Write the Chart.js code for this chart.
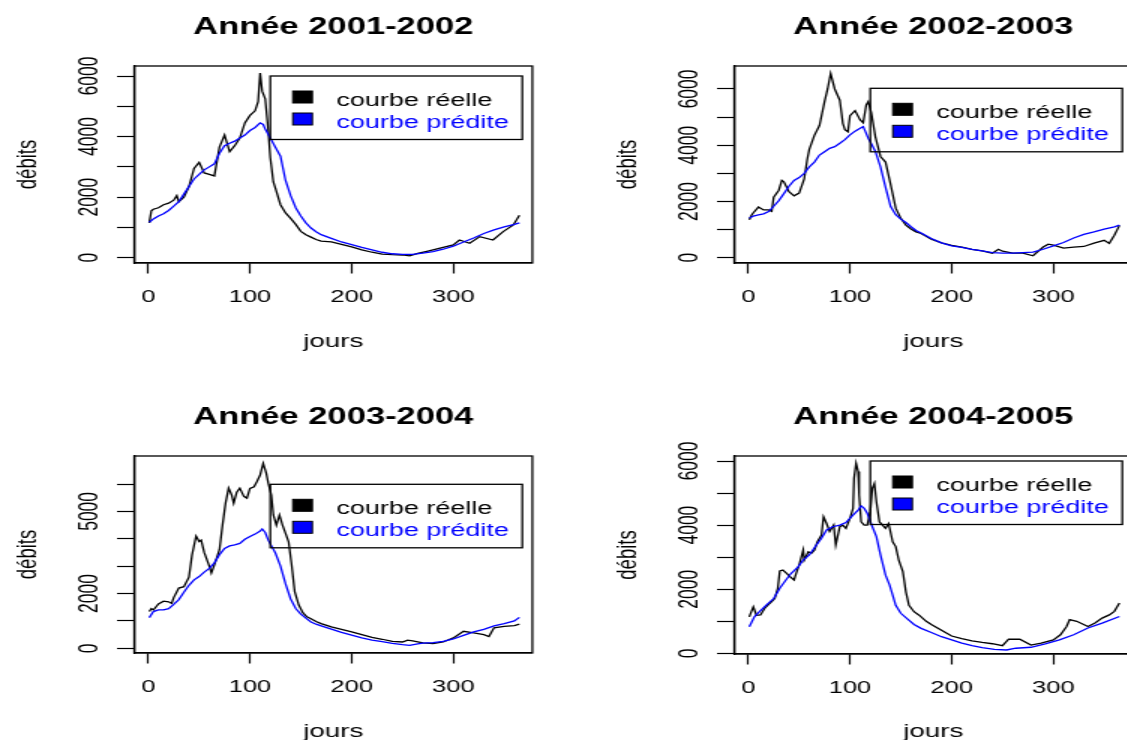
<!DOCTYPE html>
<html>
<head>
<meta charset="utf-8">
<title>Débits réels et prédits</title>
<script src="https://cdn.jsdelivr.net/npm/chart.js@4.4.1/dist/chart.umd.min.js"></script>
<style>
  html, body { margin: 0; padding: 0; background: #fff; }
  body { width: 1127px; height: 740px; overflow: hidden; position: relative; }
  /* le graphique d'origine est étiré horizontalement */
  canvas { position: absolute; transform: scaleX(1.5); transform-origin: 0 0; }
</style>
</head>
<body>
<canvas id="g1" width="400" height="370" style="left:0;top:0"></canvas>
<canvas id="g2" width="400" height="370" style="left:600px;top:0"></canvas>
<canvas id="g3" width="400" height="370" style="left:0;top:390px"></canvas>
<canvas id="g4" width="400" height="370" style="left:600px;top:390px"></canvas>
<script>
// graduations
const xTicks = [0, 100, 200, 300];
const yTicks = [0, 1000, 2000, 3000, 4000, 5000, 6000];
const yLabels = [0, 2000, 4000, 6000];
const yLabels2003 = [0, 2000, 5000];
const seriesNames = ['courbe réelle', 'courbe prédite'];

// Année 2001-2002
const jours1Reel = [1,3,5,10,15,20,25,28,30,35,40,45,50,55,60,65,70,75,80,85,90,95,100,105,108,110,112,115,118,120,123,125,130,135,140,145,150,155,160,165,170,180,190,200,210,220,230,240,250,257,265,275,285,295,300,306,316,326,339,349,359,365];
const debits1Reel = [1150,1550,1600,1650,1750,1800,1900,2050,1850,2000,2350,2950,3150,2800,2750,2700,3650,4050,3500,3700,3950,4450,4700,4850,5150,6100,5500,5250,4200,3300,2500,2300,1750,1480,1300,1100,870,760,680,600,550,520,440,360,260,180,120,100,90,60,140,220,300,380,420,585,475,695,585,860,1080,1400];
const jours1Pred = [1,5,10,15,20,25,30,35,40,45,50,55,60,65,70,75,80,85,90,95,100,105,110,113,115,120,125,130,135,140,145,150,155,160,165,170,180,190,200,210,220,230,240,250,260,270,280,290,300,310,320,330,340,350,360,365];
const debits1Pred = [1170,1280,1380,1450,1560,1700,1850,2100,2350,2600,2750,2900,3000,3100,3450,3700,3780,3850,3950,4050,4200,4300,4450,4400,4250,3950,3650,3350,2550,2050,1650,1380,1150,980,860,760,640,520,430,340,260,180,130,110,110,150,200,280,380,520,650,800,920,1020,1100,1150];

// Année 2002-2003
const jours2Reel = [1,3,5,10,15,20,23,25,30,33,35,40,45,50,55,58,60,65,70,75,78,81,85,90,93,95,98,100,105,110,113,116,118,121,125,130,135,140,145,150,155,160,165,170,180,190,200,210,220,230,240,246,250,260,270,280,290,295,300,310,320,330,340,350,355,360,365];
const debits2Reel = [1350,1500,1600,1800,1700,1700,1650,2150,2400,2750,2700,2350,2200,2300,2800,3500,3850,4350,4700,5550,6000,6550,6000,5600,4780,4550,4480,5050,5230,4900,4800,5430,5550,5150,4300,3600,3400,2600,1760,1400,1160,1020,920,860,660,530,440,380,300,240,160,300,230,160,160,70,380,480,450,340,380,400,520,620,510,800,1150];
const jours2Pred = [1,5,10,15,20,25,30,35,40,45,50,55,60,65,70,75,80,85,90,95,100,105,110,113,115,118,121,125,130,135,140,145,150,155,160,165,170,180,190,200,210,220,230,240,250,260,270,280,290,300,310,320,330,340,350,360,365];
const debits2Pred = [1400,1480,1520,1560,1640,1830,2030,2280,2540,2750,2850,3000,3230,3400,3650,3770,3890,3950,4070,4200,4370,4500,4600,4660,4500,4250,4050,3780,3230,2500,1820,1530,1370,1250,1100,970,880,680,530,420,370,300,240,180,160,160,180,200,300,420,540,700,830,920,1020,1100,1160];

// Année 2003-2004
const jours3Reel = [1,3,5,10,15,20,23,25,30,35,40,43,47,50,52,55,60,62,65,70,73,76,79,82,84,87,90,94,97,100,104,107,110,113,116,118,121,123,126,129,132,135,138,141,144,148,152,156,160,165,170,180,190,200,210,220,230,240,250,255,260,270,280,290,300,310,320,330,335,340,350,360,365];
const debits3Reel = [1340,1450,1400,1620,1720,1700,1640,1850,2200,2250,2600,3400,4100,3900,3950,3500,3000,2750,3050,3600,4500,5300,5850,5600,5300,5700,5850,5550,5480,5840,5900,6100,6330,6750,6400,6030,5600,4870,4500,4870,4500,4200,3890,3040,2070,1580,1300,1150,1080,980,900,780,690,600,500,400,330,250,230,300,270,200,170,230,380,620,560,500,430,750,800,830,880];
const jours3Pred = [1,5,10,15,20,25,30,35,40,45,50,55,60,65,70,75,80,85,90,95,100,105,110,112,115,118,121,125,130,135,140,145,150,155,160,165,170,180,190,200,210,220,230,240,250,257,265,270,280,290,300,310,320,330,340,350,360,365];
const debits3Pred = [1120,1340,1400,1400,1450,1600,1780,2050,2300,2500,2620,2780,2920,3120,3420,3650,3740,3780,3830,3980,4080,4170,4280,4360,4230,3950,3750,3480,3000,2350,1800,1450,1250,1100,960,880,820,700,580,480,380,300,240,180,130,110,160,190,210,250,340,470,600,690,820,900,1000,1130];

// Année 2004-2005
const jours4Reel = [1,3,5,8,12,16,20,23,26,29,31,34,38,41,45,47,50,54,55,59,62,65,68,72,74,77,80,84,86,90,93,96,100,103,104,106,108,109,111,114,117,120,122,124,126,129,132,135,138,142,145,148,152,155,158,163,168,175,180,190,200,210,220,230,240,250,256,267,278,288,300,307,313,316,323,334,341,348,355,360,365];
const debits4Reel = [1140,1300,1450,1190,1200,1400,1530,1610,1710,2030,2570,2600,2490,2390,2290,2490,2750,3220,2910,3170,3120,3220,3480,3690,4260,4050,3800,4000,3380,3950,4000,3900,4210,4520,5460,5930,5670,4940,4100,4000,4000,4420,5150,5300,4730,4100,4000,3900,4050,3480,3330,2910,2550,1920,1500,1300,1190,1000,900,720,540,460,390,340,300,240,440,440,260,320,420,580,840,1050,1000,840,950,1100,1200,1310,1570];
const jours4Pred = [1,6,11,18,25,31,37,42,49,54,60,67,72,77,83,90,96,103,108,111,114,117,122,126,130,135,139,142,145,150,157,163,170,180,190,200,210,220,230,242,254,263,278,292,306,320,334,348,365];
const debits4Pred = [830,1140,1300,1510,1710,2030,2290,2490,2700,2910,3070,3380,3590,3850,3950,4000,4080,4310,4470,4600,4520,4370,3950,3640,3070,2440,2130,1820,1500,1250,1060,900,780,650,520,420,320,240,180,125,105,160,190,295,420,580,790,945,1150];

Chart.defaults.font.family = '"Liberation Sans", Arial, sans-serif';
Chart.defaults.color = '#000';

// cadre autour de la zone de tracé (comme box() dans R)
const frame = {
  id: 'frame',
  afterDatasetsDraw(chart) {
    const a = chart.chartArea, ctx = chart.ctx;
    ctx.save();
    ctx.strokeStyle = '#000';
    ctx.lineWidth = 1.3;
    ctx.strokeRect(a.left, a.top, a.right - a.left, a.bottom - a.top);
    ctx.restore();
  }
};

// légende encadrée, sans fond
const rLegend = {
  id: 'rLegend',
  afterDatasetsDraw(chart, args, opts) {
    const ctx = chart.ctx;
    ctx.save();
    ctx.strokeStyle = '#000';
    ctx.lineWidth = 1.3;
    ctx.strokeRect(opts.left, opts.top, opts.width, opts.height);
    ctx.font = '18px "Liberation Sans", Arial, sans-serif';
    ctx.textBaseline = 'alphabetic';
    chart.data.datasets.forEach((ds, i) => {
      const y = opts.top + 15 + i * 22;
      ctx.fillStyle = ds.borderColor;
      ctx.fillRect(opts.left + 15, y, 13, 12);
      ctx.lineWidth = 1;
      ctx.strokeRect(opts.left + 15, y, 13, 12);
      ctx.fillText(ds.label, opts.left + 44, y + 15);
    });
    ctx.restore();
  }
};

const pts = (jours, debits) => jours.map((j, i) => ({ x: j, y: debits[i] }));

function panel(id, titre, jr, dr, jp, dp, yMin, yMax, labels, legendTop, bottom) {
  new Chart(document.getElementById(id), {
    type: 'line',
    data: {
      datasets: [
        { label: seriesNames[0], data: pts(jr, dr), borderColor: '#000000', backgroundColor: '#000000',
          borderWidth: 1.3, pointRadius: 0, tension: 0, order: 2 },
        { label: seriesNames[1], data: pts(jp, dp), borderColor: '#0000ff', backgroundColor: '#0000ff',
          borderWidth: 1.3, pointRadius: 0, tension: 0, order: 1 }
      ]
    },
    options: {
      responsive: false,
      animation: false,
      devicePixelRatio: 1,
      layout: { padding: { left: 0, right: 45.1, top: 0, bottom: 0 } },
      plugins: {
        legend: { display: false },
        tooltip: { enabled: false },
        title: {
          display: true, text: titre, fullSize: false, color: '#000',
          font: { size: 23, weight: 'bold' },
          padding: { top: 14, bottom: 24.4 }
        },
        rLegend: { left: 180.2, top: legendTop, width: 168, height: 63.5 }
      },
      scales: {
        x: {
          type: 'linear', min: -13.8, max: 377.7,
          afterBuildTicks: s => { s.ticks = xTicks.map(v => ({ value: v })); },
          afterFit: s => { s.height = 370 - bottom; s.paddingLeft = 0; s.paddingRight = 0; },
          grid: { display: true, drawOnChartArea: false, drawTicks: true, tickLength: 10.5, tickColor: '#000', tickWidth: 1.2 },
          border: { display: true, color: '#000', width: 1.3 },
          ticks: { autoSkip: false, maxRotation: 0, padding: 13.8, font: { size: 17 }, color: '#000' },
          title: { display: true, text: 'jours', color: '#000', font: { size: 18.5 }, padding: { top: 0, bottom: 17.4 } }
        },
        y: {
          type: 'linear', min: yMin, max: yMax,
          afterBuildTicks: s => { s.ticks = yTicks.map(v => ({ value: v })); },
          afterFit: s => { s.width = 89.5; s.paddingTop = 0; s.paddingBottom = 0; },
          grid: { display: true, drawOnChartArea: false, drawTicks: true, tickLength: 11.5, tickColor: '#000', tickWidth: 1.2 },
          border: { display: true, color: '#000', width: 1.3 },
          ticks: {
            autoSkip: false, minRotation: 90, maxRotation: 90, crossAlign: 'center', padding: -2,
            font: { size: 17.5 }, color: '#000',
            callback: v => labels.includes(v) ? String(v) : ''
          },
          title: { display: true, text: 'débits', color: '#000', font: { size: 18.5 }, padding: { top: 7.5, bottom: 0 } }
        }
      }
    },
    plugins: [frame, rLegend]
  });
}

panel('g1', 'Année 2001-2002', jours1Reel, debits1Reel, jours1Pred, debits1Pred, -175, 6331, yLabels, 76, 263);
panel('g2', 'Année 2002-2003', jours2Reel, debits2Reel, jours2Pred, debits2Pred, -188, 6817, yLabels, 88.3, 263);
panel('g3', 'Année 2003-2004', jours3Reel, debits3Reel, jours3Pred, debits3Pred, -172, 7023, yLabels2003, 94.3, 263);
panel('g4', 'Année 2004-2005', jours4Reel, debits4Reel, jours4Pred, debits4Pred, -20, 6156, yLabels, 71, 264);
</script>
</body>
</html>
